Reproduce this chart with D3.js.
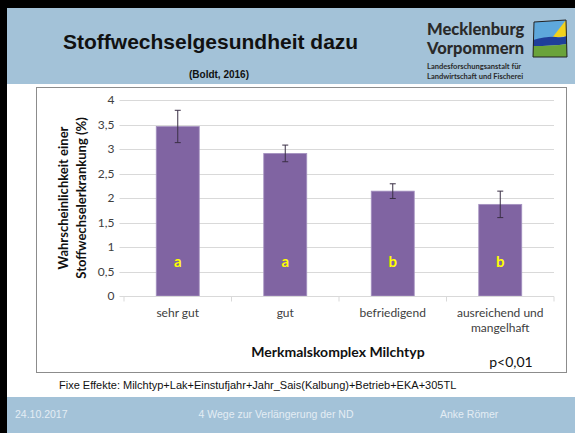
<!DOCTYPE html>
<html>
<head>
<meta charset="utf-8">
<script src="https://cdn.jsdelivr.net/npm/d3@7"></script>
<style>
  body { margin: 0; background: #fff; }
  svg { display: block; }
</style>
</head>
<body>
<div id="svg"></div>
<script>
let w = 575;
let h = 433;

// data
let categories = ['sehr gut', 'gut', 'befriedigend', 'ausreichend und mangelhaft'];
let values = [3.46, 2.91, 2.14, 1.87];
let errors = [0.33, 0.17, 0.15, 0.27];
let letters = ['a', 'a', 'b', 'b'];
let yTicks = [0, 0.5, 1, 1.5, 2, 2.5, 3, 3.5, 4];

let blue = '#a3c2d8';
let calibri = 'Lato, "Open Sans", sans-serif';

let svg = d3.select('#svg')
  .append('svg')
  .attr('width', w)
  .attr('height', h);

// slide background
svg.append('rect').attr('width', w).attr('height', h).style('fill', '#fff');
svg.append('rect').attr('x', 0).attr('y', 8).attr('width', w).attr('height', 76).style('fill', blue);
svg.append('rect').attr('x', 0).attr('y', 397).attr('width', w).attr('height', 36).style('fill', blue);
svg.append('rect').attr('x', 0).attr('y', 0).attr('width', w).attr('height', 8).style('fill', '#000');
svg.append('rect').attr('x', 0).attr('y', 0).attr('width', 7).attr('height', h).style('fill', '#000');

// header
svg.append('text')
  .text('Stoffwechselgesundheit dazu')
  .attr('x', 63).attr('y', 49)
  .style('font-family', 'Arial, "Liberation Sans", sans-serif')
  .style('font-weight', 'bold')
  .style('font-size', '21px')
  .style('fill', '#111');
svg.append('text')
  .text('(Boldt, 2016)')
  .attr('x', 219).attr('y', 78)
  .attr('text-anchor', 'middle')
  .style('font-family', 'Arial, "Liberation Sans", sans-serif')
  .style('font-weight', 'bold')
  .style('font-size', '10px')
  .style('fill', '#111');

// logo
let logo = svg.append('g');
logo.append('text').text('Mecklenburg').attr('x', 427).attr('y', 35)
  .style('font-family', calibri).style('font-weight', 900).style('font-size', '16.5px').style('fill', '#2a2a2a');
logo.append('text').text('Vorpommern').attr('x', 427).attr('y', 54)
  .style('font-family', calibri).style('font-weight', 900).style('font-size', '16.5px').style('fill', '#2a2a2a');
logo.append('text').text('Landesforschungsanstalt für').attr('x', 427).attr('y', 69)
  .style('font-family', calibri).style('font-weight', 'bold').style('font-size', '7.5px').style('fill', '#2a2a2a');
logo.append('text').text('Landwirtschaft und Fischerei').attr('x', 427).attr('y', 79)
  .style('font-family', calibri).style('font-weight', 'bold').style('font-size', '7.5px').style('fill', '#2a2a2a');
logo.append('path').attr('d', 'M534,22 L566,20 L556,36 L534,40 Z').style('fill', '#5ea8dc');
logo.append('path').attr('d', 'M566,20 L567,36 L552,38 Z').style('fill', '#f2d21c');
logo.append('path').attr('d', 'M533,40 Q548,36 556,37 Q562,38 567,36 L567,44 Q552,46 533,46 Z').style('fill', '#1f3f9a');
logo.append('path').attr('d', 'M533,46 Q552,46 567,44 L567,57 L533,57 Z').style('fill', '#6aa33a');
logo.append('path').attr('d', 'M534,22 L566,20 L567,57 L533,57 Z')
  .style('fill', 'none').style('stroke', '#222').style('stroke-width', 1);

// chart box
svg.append('rect')
  .attr('x', 36.5).attr('y', 87.5).attr('width', 530).attr('height', 285)
  .style('fill', '#fff').style('stroke', '#8c8c8c');

let xScale = d3.scaleBand()
  .domain(categories)
  .range([124, 554])
  .paddingInner(0.6)
  .paddingOuter(0.3);

let yScale = d3.scaleLinear()
  .domain([0, 4])
  .range([296, 100]);

// gridlines
svg.append('g')
  .selectAll('line')
  .data(yTicks.slice(1))
  .enter()
  .append('line')
  .attr('x1', 124).attr('x2', 554)
  .attr('y1', d => Math.round(yScale(d)) + 0.5)
  .attr('y2', d => Math.round(yScale(d)) + 0.5)
  .style('stroke', '#d9d9d9');

// y axis
let yAxis = d3.axisLeft(yScale)
  .tickValues(yTicks)
  .tickSize(5)
  .tickPadding(5)
  .tickFormat(d => d3.format('~g')(d).replace('.', ','));

let yg = svg.append('g')
  .attr('transform', 'translate(124.5,0)')
  .call(yAxis);
yg.select('.domain').remove();
yg.selectAll('.tick line').attr('x1', -5).attr('x2', 0).style('stroke', '#d9d9d9');
yg.selectAll('.tick').attr('transform', d => 'translate(0,' + (Math.round(yScale(d)) + 0.5) + ')');
yg.selectAll('text')
  .style('font-family', calibri)
  .style('font-size', '12px')
  .style('fill', '#404040');

// bars
svg.selectAll('.bar')
  .data(values)
  .enter()
  .append('rect')
  .attr('class', 'bar')
  .attr('x', (d, i) => xScale(categories[i]))
  .attr('y', d => yScale(d))
  .attr('width', xScale.bandwidth())
  .attr('height', d => yScale(0) - yScale(d))
  .style('fill', '#8064a2')
  .style('stroke', '#a592c0')
  .style('stroke-width', 0.8);

// error bars
let eg = svg.append('g').style('stroke', '#3a2f45').style('stroke-width', 1);
values.forEach((v, i) => {
  let cx = xScale(categories[i]) + xScale.bandwidth() / 2;
  eg.append('line').attr('x1', cx).attr('x2', cx)
    .attr('y1', yScale(v + errors[i])).attr('y2', yScale(v - errors[i]));
  eg.append('line').attr('x1', cx - 3).attr('x2', cx + 3)
    .attr('y1', yScale(v + errors[i])).attr('y2', yScale(v + errors[i]));
  eg.append('line').attr('x1', cx - 3).attr('x2', cx + 3)
    .attr('y1', yScale(v - errors[i])).attr('y2', yScale(v - errors[i]));
});

// significance letters
svg.selectAll('.letter')
  .data(letters)
  .enter()
  .append('text')
  .attr('class', 'letter')
  .text(d => d)
  .attr('x', (d, i) => xScale(categories[i]) + xScale.bandwidth() / 2)
  .attr('y', yScale(0.6))
  .attr('text-anchor', 'middle')
  .style('font-family', calibri)
  .style('font-weight', 'bold')
  .style('font-size', '15px')
  .style('fill', '#ffff00');

// x axis
let xAxis = d3.axisBottom(xScale).tickSize(0).tickPadding(12);
let xg = svg.append('g')
  .attr('transform', 'translate(0,296.5)')
  .call(xAxis);
xg.select('.domain').attr('d', 'M124,0H554').style('stroke', '#d9d9d9');
xg.selectAll('.tick text').remove();
xg.selectAll('.sep')
  .data(d3.range(5))
  .enter()
  .append('line')
  .attr('x1', i => 124 + i * (430 / 4)).attr('x2', i => 124 + i * (430 / 4))
  .attr('y1', 0).attr('y2', 5)
  .style('stroke', '#d9d9d9');

categories.forEach((c, i) => {
  let cx = xScale(c) + xScale.bandwidth() / 2;
  let lines = c === 'ausreichend und mangelhaft' ? ['ausreichend und', 'mangelhaft'] : [c];
  lines.forEach((l, j) => {
    svg.append('text')
      .text(l)
      .attr('x', cx).attr('y', 317 + j * 15)
      .attr('text-anchor', 'middle')
      .style('font-family', calibri)
      .style('font-size', '12px')
      .style('fill', '#404040');
  });
});

// axis titles
svg.append('text')
  .text('Merkmalskomplex Milchtyp')
  .attr('x', 338).attr('y', 357)
  .attr('text-anchor', 'middle')
  .style('font-family', calibri)
  .style('font-weight', 'bold')
  .style('font-size', '14px')
  .style('fill', '#111');

let yt = svg.append('text')
  .attr('transform', 'translate(0,198) rotate(-90)')
  .attr('text-anchor', 'middle')
  .style('font-family', calibri)
  .style('font-weight', 'bold')
  .style('font-size', '13px')
  .style('fill', '#111');
yt.append('tspan').text('Wahrscheinlichkeit einer').attr('x', 0).attr('y', 68);
yt.append('tspan').text('Stoffwechselerkrankung (%)').attr('x', 0).attr('y', 86);

svg.append('text')
  .text('p<0,01')
  .attr('x', 511).attr('y', 367)
  .attr('text-anchor', 'middle')
  .style('font-family', calibri)
  .style('font-size', '14px')
  .style('fill', '#111');

// footnote
svg.append('text')
  .text('Fixe Effekte: Milchtyp+Lak+Einstufjahr+Jahr_Sais(Kalbung)+Betrieb+EKA+305TL')
  .attr('x', 59).attr('y', 389)
  .style('font-family', 'Arial, "Liberation Sans", sans-serif')
  .style('font-size', '11px')
  .style('fill', '#111');

// footer
let foot = [['24.10.2017', 15, 'start'], ['4 Wege zur Verlängerung der ND', 276, 'middle'], ['Anke Römer', 440, 'start']];
foot.forEach(f => {
  svg.append('text')
    .text(f[0])
    .attr('x', f[1]).attr('y', 418)
    .attr('text-anchor', f[2])
    .style('font-family', 'Arial, "Liberation Sans", sans-serif')
    .style('font-size', '10.5px')
    .style('fill', '#e4edf4');
});
</script>
</body>
</html>
